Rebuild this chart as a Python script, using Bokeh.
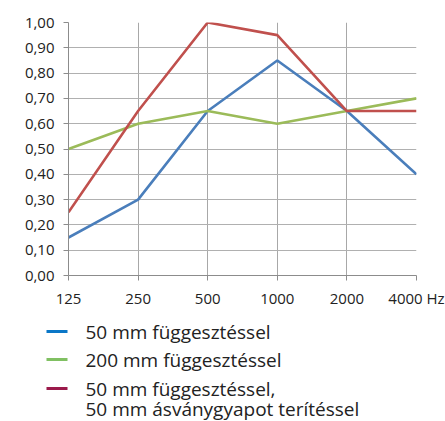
from bokeh.plotting import figure
from bokeh.models import Range1d, FixedTicker
from bokeh.layouts import column
from bokeh.embed import file_html
from bokeh.resources import INLINE
from bokeh.core.properties import value

frequencies = ["125", "250", "500", "1000", "2000", "4000 Hz"]
y_ticks = [0.0, 0.1, 0.2, 0.3, 0.4, 0.5, 0.6, 0.7, 0.8, 0.9, 1.0]
y_tick_labels = ["0,00", "0,10", "0,20", "0,30", "0,40", "0,50", "0,60", "0,70", "0,80", "0,90", "1,00"]

series_names = ["50 mm függesztéssel",
                "200 mm függesztéssel",
                "50 mm függesztéssel,\n50 mm ásványgyapot terítéssel"]
blue_50mm = [0.15, 0.30, 0.65, 0.85, 0.65, 0.40]
green_200mm = [0.50, 0.60, 0.65, 0.60, 0.65, 0.70]
red_50mm_wool = [0.25, 0.65, 1.00, 0.95, 0.65, 0.65]

line_colors = ["#4a7ebb", "#9bbb59", "#c0504d"]
legend_colors = ["#0a77c7", "#80c062", "#9b1a4b"]

FONT = "Open Sans"
xs = list(range(len(frequencies)))

p = figure(width=445, height=310, output_backend="svg", toolbar_location=None,
           x_range=Range1d(0, len(frequencies) - 1), y_range=Range1d(0, 1),
           min_border_left=68, min_border_right=29, min_border_top=22, min_border_bottom=32)
p.outline_line_color = None

for ys, c in zip([blue_50mm, green_200mm, red_50mm_wool], line_colors):
    p.line(xs, ys, line_color=c, line_width=2.6)

p.xaxis.ticker = FixedTicker(ticks=xs)
p.xaxis.major_label_overrides = {i: t for i, t in zip(xs, frequencies)}
p.yaxis.ticker = FixedTicker(ticks=y_ticks)
p.yaxis.major_label_overrides = {v: t for v, t in zip(y_ticks, y_tick_labels)}

for ax in (p.xaxis, p.yaxis):
    ax.axis_line_color = "#8c8c8c"
    ax.axis_line_width = 1
    ax.major_tick_line_color = "#8c8c8c"
    ax.major_tick_in = 0
    ax.major_tick_out = 5
    ax.minor_tick_line_color = None
    ax.major_label_text_font = FONT
    ax.major_label_text_font_size = "15px"
    ax.major_label_text_color = "#222222"
p.yaxis.major_label_standoff = 9
p.xaxis.major_label_standoff = 7

p.xgrid.ticker = FixedTicker(ticks=xs)
p.ygrid.ticker = FixedTicker(ticks=y_ticks)
p.xgrid.grid_line_color = "#a8a8a8"
p.ygrid.grid_line_color = "#b0b0b0"

# legend figure
lw, lh = 445, 111
lg = figure(width=lw, height=lh, output_backend="svg", toolbar_location=None,
            x_range=Range1d(0, lw), y_range=Range1d(lh, 0),
            x_axis_location=None, y_axis_location=None, min_border=0)
lg.outline_line_color = None
lg.grid.visible = False
row_y = [21, 49, 78]
for name, c, yy in zip(series_names, legend_colors, row_y):
    lg.segment(x0=[46], y0=[yy], x1=[67], y1=[yy], line_color=c, line_width=3)
    for k, t in enumerate(name.split("\n")):
        lg.text(x=[85], y=[yy + k * 20.5], text=[t], text_font=value(FONT),
                text_font_size="19px", text_baseline="middle", text_align="left",
                text_color="#222222")

for fig in (p, lg):
    if "frame_align" in fig.properties():
        fig.frame_align = False

layout = column(p, lg, spacing=0)
open("out.html", "w").write(file_html(layout, INLINE))
